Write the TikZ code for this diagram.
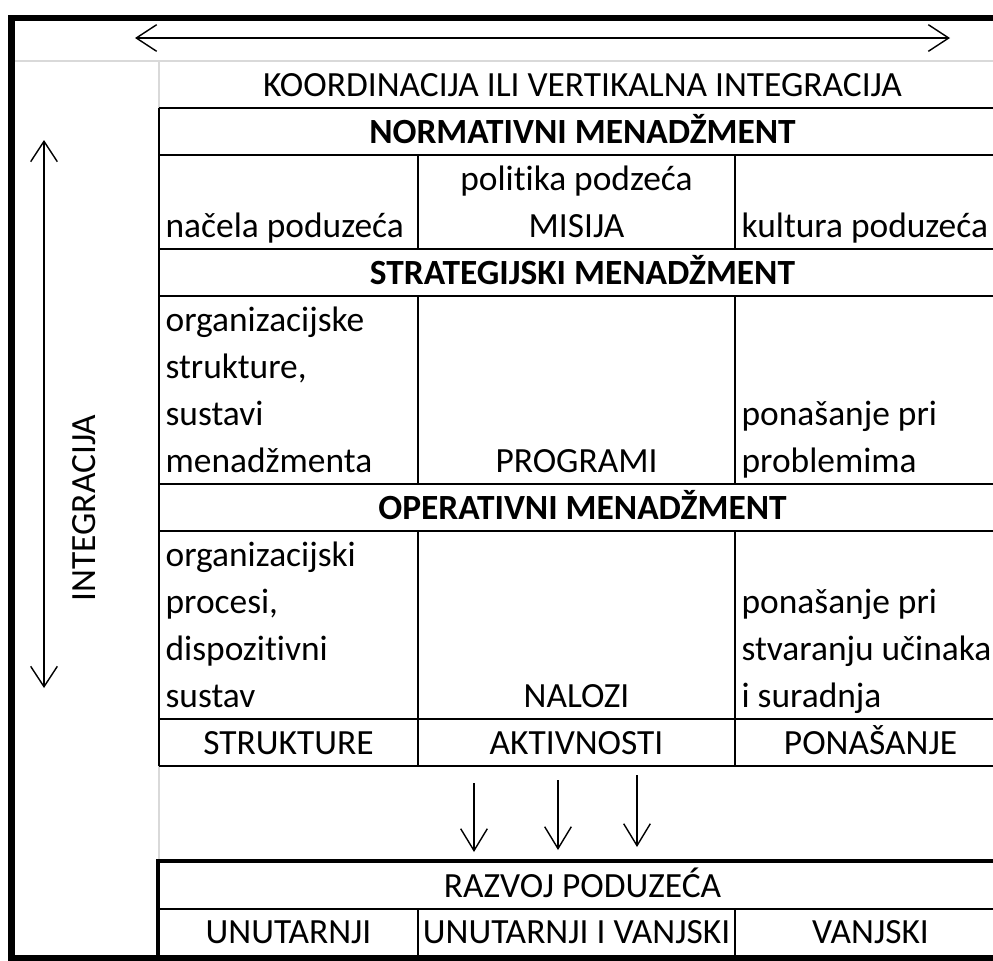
\documentclass[tikz,border=0pt]{standalone}
\usepackage{fontspec}
\setmainfont{Carlito}[Ligatures={NoCommon}]
\usetikzlibrary{arrows.meta}

\begin{document}
\begin{tikzpicture}[
    x=0.3191pt, y=-0.3191pt,
    cell/.style={inner sep=0pt, font=\fontsize{11.3}{15}\selectfont},
    head/.style={inner sep=0pt, font=\fontsize{11.3}{15}\selectfont\bfseries},
    rule/.style={line width=0.65pt},
    thickrule/.style={line width=1pt},
    frame/.style={line width=2.2pt},
    gridline/.style={gray!30, line width=0.45pt},
    arr/.style={line width=0.45pt,
                {Straight Barb[length=6.5pt,width=8.5pt]}-{Straight Barb[length=6.5pt,width=8.5pt]}},
    darr/.style={line width=0.45pt, -{Straight Barb[length=7pt,width=8.5pt]}}
]
\useasboundingbox (0,0) rectangle (993,960);

\draw [gridline] (15,61) -- (993,61);
\draw [gridline] (159,61) -- (159,108);
\draw [gridline] (159,766) -- (159,861);

\draw [rule] (159,108) -- (993,108);
\draw [rule] (159,155) -- (993,155);
\draw [rule] (159,249) -- (993,249);
\draw [rule] (159,296) -- (993,296);
\draw [rule] (159,484) -- (993,484);
\draw [rule] (159,531) -- (993,531);
\draw [rule] (159,719) -- (993,719);
\draw [rule] (159,766) -- (993,766);
\draw [rule] (159,108) -- (159,766);
\draw [rule] (418,155) -- (418,249);
\draw [rule] (735,155) -- (735,249);
\draw [rule] (418,296) -- (418,484);
\draw [rule] (735,296) -- (735,484);
\draw [rule] (418,531) -- (418,766);
\draw [rule] (735,531) -- (735,766);

\draw [thickrule] (158,955) -- (158,861) -- (993,861);
\draw [rule] (158,909) -- (993,909);
\draw [rule] (418,909) -- (418,955);
\draw [rule] (735,909) -- (735,955);

\draw [frame] (993,958) -- (11.5,958) -- (11.5,18) -- (993,18);

\node (koord) [cell, anchor=base] at (582.5,96) {KOORDINACIJA ILI VERTIKALNA INTEGRACIJA};
\node (normativni) [head, anchor=base] at (582.5,143) {NORMATIVNI MENADŽMENT};
\node (politika) [cell, anchor=base] at (576.5,190) {politika podzeća};
\node (nacela) [cell, anchor=base west] at (165,237) {načela poduzeća};
\node (misija) [cell, anchor=base] at (576.5,237) {MISIJA};
\node (kultura) [cell, anchor=base west] at (741,237) {kultura poduzeća};
\node (strategijski) [head, anchor=base] at (582.5,284) {STRATEGIJSKI MENADŽMENT};
\node (orgstr) [cell, anchor=base west] at (165,331) {organizacijske};
\node (strukt) [cell, anchor=base west] at (165,378) {strukture,};
\node (sustavi) [cell, anchor=base west] at (165,425) {sustavi};
\node (menadz) [cell, anchor=base west] at (165,472) {menadžmenta};
\node (programi) [cell, anchor=base] at (576.5,472) {PROGRAMI};
\node (ponprob) [cell, anchor=base west] at (741,425) {ponašanje pri};
\node (problemi) [cell, anchor=base west] at (741,472) {problemima};
\node (operativni) [head, anchor=base] at (582.5,519) {OPERATIVNI MENADŽMENT};
\node (orgproc) [cell, anchor=base west] at (165,566) {organizacijski};
\node (procesi) [cell, anchor=base west] at (165,613) {procesi,};
\node (dispoz) [cell, anchor=base west] at (165,660) {dispozitivni};
\node (sustav) [cell, anchor=base west] at (165,707) {sustav};
\node (nalozi) [cell, anchor=base] at (576.5,707) {NALOZI};
\node (ponstv) [cell, anchor=base west] at (741,613) {ponašanje pri};
\node (stvaranju) [cell, anchor=base west] at (741,660) {stvaranju učinaka};
\node (suradnja) [cell, anchor=base west] at (741,707) {i suradnja};
\node (strukture) [cell, anchor=base] at (288.5,754) {STRUKTURE};
\node (aktivnosti) [cell, anchor=base] at (576.5,754) {AKTIVNOSTI};
\node (ponasanje) [cell, anchor=base] at (870.5,754) {PONAŠANJE};
\node (razvoj) [cell, anchor=base] at (582.5,897) {RAZVOJ PODUZEĆA};
\node (unutarnji) [cell, anchor=base] at (288.5,943) {UNUTARNJI};
\node (unvan) [cell, anchor=base] at (576.5,943) {UNUTARNJI I VANJSKI};
\node (vanjski) [cell, anchor=base] at (870.5,943) {VANJSKI};
\node (integracija) [cell, rotate=90] at (84,508) {INTEGRACIJA};

\coordinate (hleft) at (135,38);
\coordinate (hright) at (950,38);
\coordinate (vtop) at (44,140);
\coordinate (vbottom) at (44,688);
\coordinate (d1top) at (474,783);
\coordinate (d1end) at (474,852);
\coordinate (d2top) at (558,780);
\coordinate (d2end) at (558,850);
\coordinate (d3top) at (637,775);
\coordinate (d3end) at (637,847);

\draw [arr] (hleft) -- (hright);
\draw [arr] (vtop) -- (vbottom);
\draw [darr] (d1top) -- (d1end);
\draw [darr] (d2top) -- (d2end);
\draw [darr] (d3top) -- (d3end);
\end{tikzpicture}
\end{document}
